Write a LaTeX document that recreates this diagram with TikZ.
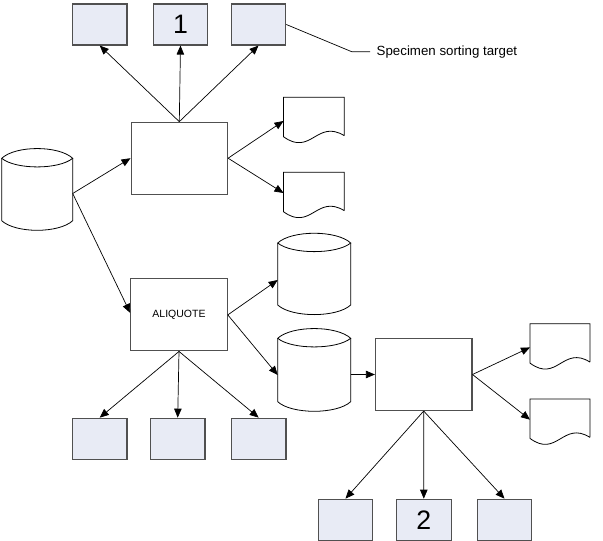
\documentclass[tikz,border=0pt]{standalone}
\usepackage{fontspec}
\setmainfont{Liberation Sans}
\usetikzlibrary{arrows.meta,calc}
\definecolor{boxfill}{HTML}{E8EBF5}
\definecolor{edge}{HTML}{505050}
\tikzset{
  smallbox/.style={draw=edge, line width=1.1pt, fill=boxfill, minimum width=54.5pt, minimum height=41pt, inner sep=0pt},
  procbox/.style={draw=edge, line width=1.1pt, fill=white, minimum width=96.5pt, minimum height=72pt, inner sep=0pt},
  shapeline/.style={draw=black, line width=0.8pt},
  ghost/.style={inner sep=0pt, outer sep=0pt},
  conn/.style={draw=black, line width=0.7pt, -{Triangle[length=9pt,width=7.5pt]}},
  callout/.style={draw=black, line width=0.7pt},
  digit/.style={font=\fontsize{26.7}{30}\selectfont},
}
\newcommand\drawcyl[4]{% x0 x1 ys ye
  \draw[shapeline] (#1,#3) .. controls ({#1+14},{#3-13}) and ({#2-14},{#3-13}) .. (#2,#3)
    .. controls ({#2-14},{#3+11.5}) and ({#1+14},{#3+11.5}) .. cycle;
  \draw[shapeline] (#1,#3) -- (#1,#4) .. controls ({#1+14},{#4+12.8}) and ({#2-14},{#4+12.8}) .. (#2,#4) -- (#2,#3);
}
\newcommand\drawdoc[3]{% x0 x1 ytop
  \draw[shapeline] (#2,{#3+38.4}) -- (#2,#3) -- (#1,#3) -- (#1,{#3+39.4})
    .. controls ({#1+0.45*(#2-#1)},{#3+59.4}) and ({#1+0.55*(#2-#1)},{#3+21.4}) .. (#2,{#3+38.4});
}
\begin{document}
\begin{tikzpicture}[x=1pt,y=-1pt]
\useasboundingbox (0,0) rectangle (603,541);
% top row
\node[smallbox] (A1) at (99.7,24.5) {};
\node[smallbox,digit] (B1) at (180.5,24.5) {1};
\node[smallbox] (C1) at (258.5,24.5) {};
% process boxes
\node[procbox] (P1) at (179.3,158.2) {};
\node[procbox,font=\fontsize{10.5}{12}\selectfont] (ALQ) at (179,314.9) {ALIQUOTE};
\node[procbox] (P3) at (423.7,374.5) {};
% cylinders
\node[ghost,minimum width=71pt,minimum height=62.4pt] (cL) at (37.2,189.5) {};
\drawcyl{1.7}{72.7}{158.3}{220.7}
\node[ghost,minimum width=73pt,minimum height=62pt] (cA) at (314.2,274) {};
\drawcyl{277.7}{350.7}{243}{305}
\node[ghost,minimum width=73pt,minimum height=63.4pt] (cB) at (314.2,370) {};
\drawcyl{277.7}{350.7}{338.3}{401.7}
% documents
\node[ghost,minimum width=60.8pt,minimum height=39.4pt] (D1) at (313.9,117) {};
\drawdoc{283.5}{344.3}{97.3}
\node[ghost,minimum width=60.8pt,minimum height=39.4pt] (D2) at (313.9,192) {};
\drawdoc{283.5}{344.3}{172.3}
\node[ghost,minimum width=60pt,minimum height=39.4pt] (D3) at (560,343.4) {};
\drawdoc{530}{590}{323.7}
\node[ghost,minimum width=60pt,minimum height=39.4pt] (D4) at (560,418.7) {};
\drawdoc{530}{590}{399}
% bottom rows
\node[smallbox] (A2) at (99.7,438.7) {};
\node[smallbox] (B2) at (177.7,438.7) {};
\node[smallbox] (C2) at (258.7,438.7) {};
\node[smallbox] (A3) at (345.5,519.7) {};
\node[smallbox,digit] (B3) at (423.8,519.7) {2};
\node[smallbox] (C3) at (504.5,519.7) {};
% callout
\coordinate (elbow) at (351.7,51.7);
\node[anchor=west,inner xsep=6.5pt,inner ysep=0pt,font=\fontsize{13.3}{15}\selectfont] (lbl) at (370,51.7) {Specimen sorting target};
\draw[callout] (C1.east) -- (elbow) -- (lbl.west);
% connectors
\draw[conn] (P1.north) -- (A1.south);
\draw[conn] (P1.north) -- (B1.south);
\draw[conn] (P1.north) -- (C1.south);
\draw[conn] ([yshift=-4pt]cL.east) -- (P1.west);
\draw[conn] ([yshift=-4pt]cL.east) -- ([yshift=2pt]ALQ.west);
\draw[conn] (P1.east) -- ([yshift=-4pt]D1.west);
\draw[conn] (P1.east) -- ([yshift=-1pt]D2.west);
\draw[conn] (ALQ.east) -- ([yshift=-6pt]cA.west);
\draw[conn] (ALQ.east) -- ([yshift=-5pt]cB.west);
\draw[conn] (ALQ.south) -- (A2.north);
\draw[conn] (ALQ.south) -- (B2.north);
\draw[conn] (ALQ.south) -- (C2.north);
\draw[conn] (P3.west -| cB.east) -- (P3.west);
\draw[conn] (P3.east) -- ([yshift=-4pt]D3.west);
\draw[conn] (P3.east) -- ([yshift=-1pt]D4.west);
\draw[conn] (P3.south) -- (A3.north);
\draw[conn] (P3.south) -- (B3.north);
\draw[conn] (P3.south) -- (C3.north);
\end{tikzpicture}
\end{document}
